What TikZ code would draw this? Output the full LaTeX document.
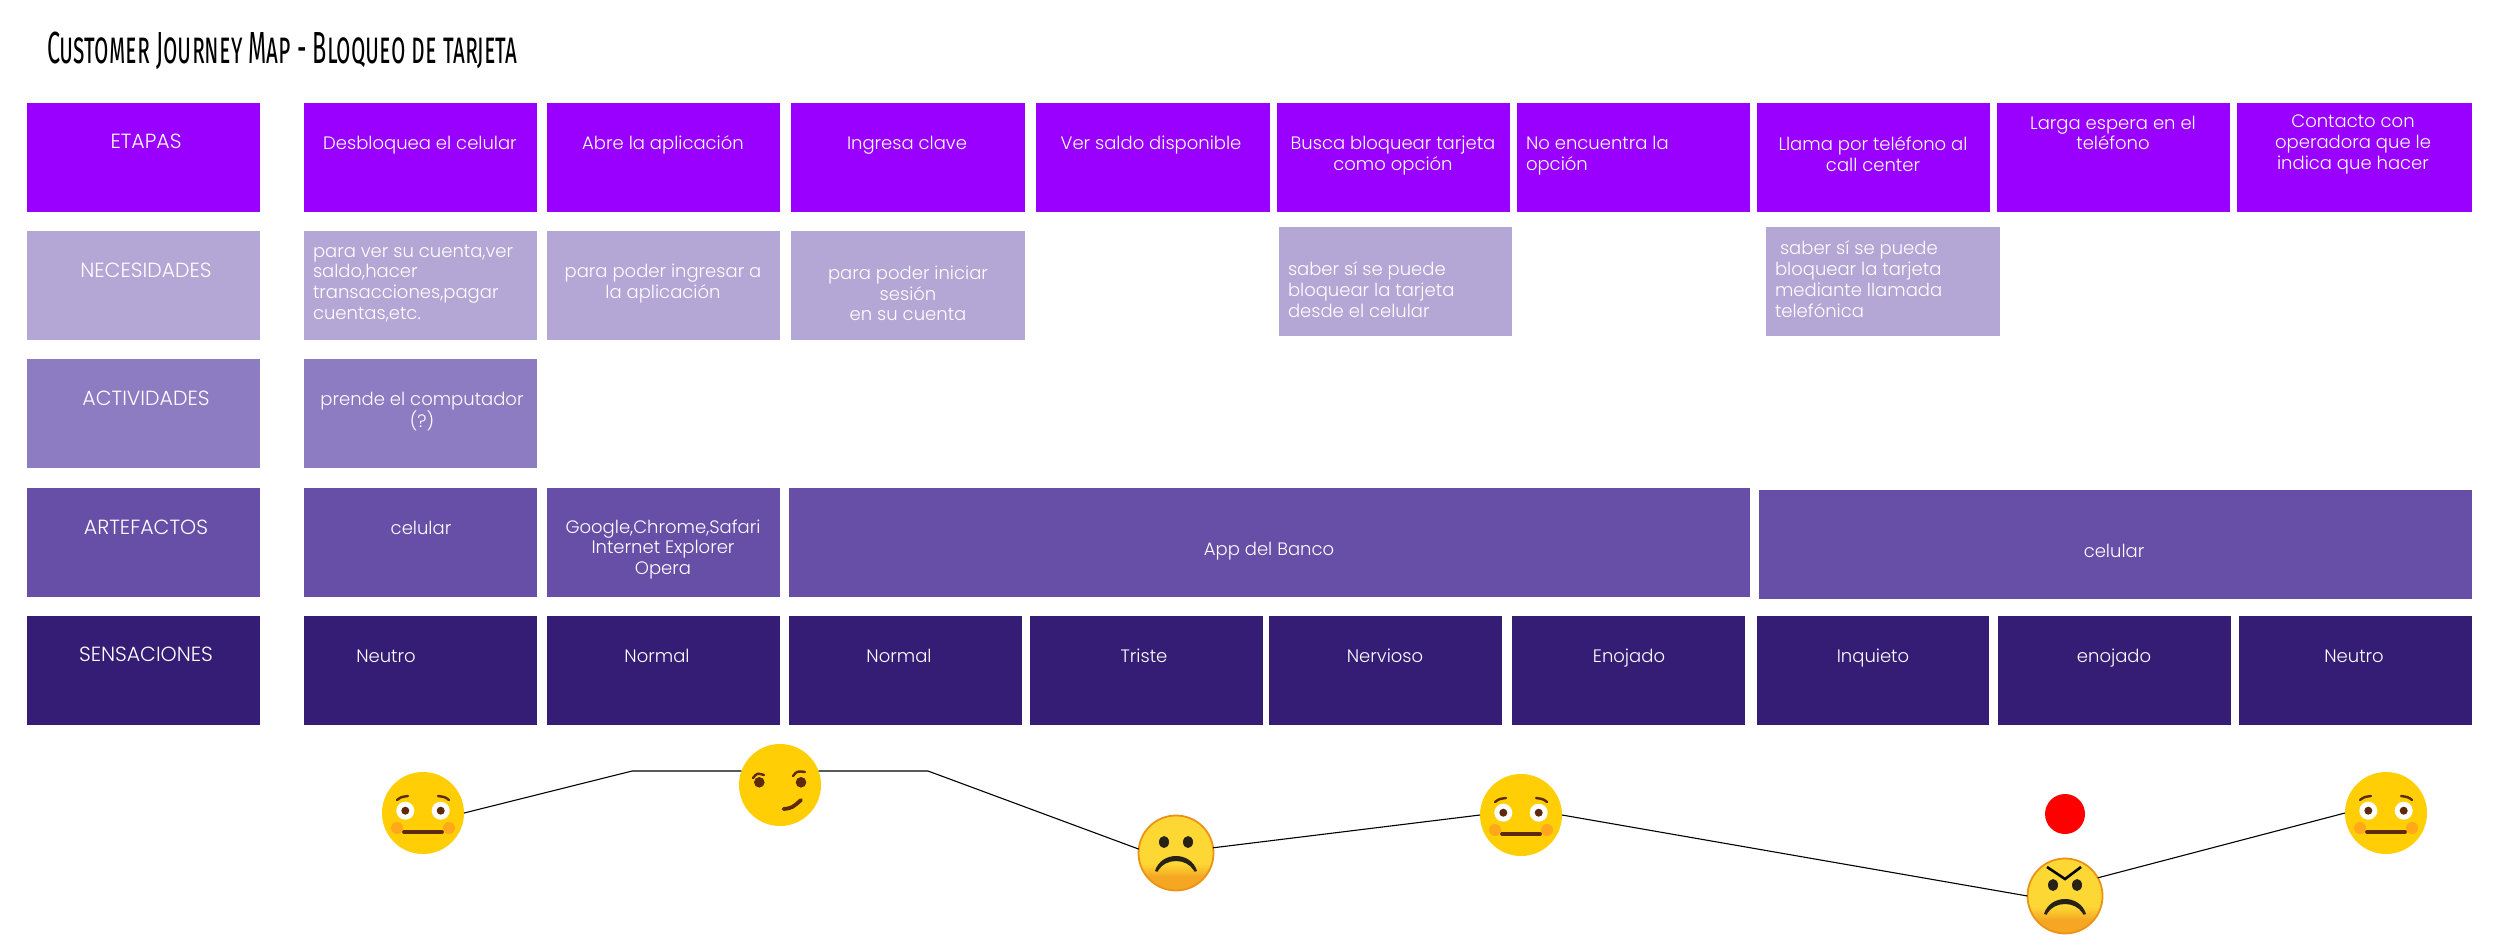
\documentclass[tikz,border=0pt]{standalone}
\usepackage{fontspec}
\setmainfont{Poppins}[UprightFont=* Light]
\newfontfamily\titlefont{Fira Sans}[Letters=SmallCaps,FakeStretch=0.52]
\definecolor{etapa}{HTML}{9900FF}
\definecolor{nece}{HTML}{B4A7D6}
\definecolor{acti}{HTML}{8E7CC3}
\definecolor{arte}{HTML}{674EA7}
\definecolor{sens}{HTML}{351C75}
\definecolor{emo}{HTML}{FFCE05}
\definecolor{emoeye}{HTML}{5D2A0C}
\definecolor{emocheek}{HTML}{FFA81A}
\definecolor{sady}{HTML}{FDD835}
\definecolor{sado}{HTML}{F5A623}
\definecolor{sadl}{HTML}{EB9316}
\definecolor{sadk}{HTML}{262218}
\pgfdeclareverticalshading{sadgrad}{100bp}{color(0bp)=(sado);color(34bp)=(sado);color(43bp)=(sady);color(100bp)=(sady)}
\tikzset{
  cellbox/.style={rectangle,draw=none,inner sep=0pt,outer sep=0pt,anchor=north west},
  celltext/.style={text=white,inner sep=0pt,outer sep=0pt,yshift=-1.5pt,font=\fontsize{18}{20.8}\selectfont},
  onetext/.style={celltext,text height=13pt,text depth=4pt,yshift=-1pt},
  headtext/.style={onetext,font=\fontsize{20.5}{22}\selectfont},
  facebase/.style={circle,draw=none,fill=emo,inner sep=0pt,outer sep=0pt,minimum size=82pt},
  sadbase/.style={circle,draw=sadl,line width=1.8pt,shading=sadgrad,inner sep=0pt,outer sep=0pt,minimum size=75pt},
  journey/.style={draw=black,line width=1.1pt},
  feature/.style={draw=emoeye,line width=2.4pt,line cap=round},
  mouthline/.style={draw=emoeye,line width=3.8pt,line cap=round},
}
% name, x1, y1, x2, y2, colour
\newcommand{\jcell}[6]{%
  \pgfmathsetmacro{\jw}{#4-#2}\pgfmathsetmacro{\jh}{#5-#3}%
  \node[cellbox,fill=#6,minimum width=\jw pt,minimum height=\jh pt] (#1) at (#2,#3) {};}
\newcommand{\neutralface}[3]{%
  \node[facebase] (#1) at (#2,#3) {};
  \begin{scope}[shift={(#2,#3)}]
    \fill[emocheek] (-26,15) circle (6) (26,15) circle (6);
    \fill[white] (-17.7,-2.3) circle (9) (17.7,-2.3) circle (9);
    \fill[emoeye] (-17.7,-2.3) circle (4) (17.7,-2.3) circle (4);
    \draw[feature] (-26,-13) .. controls (-22,-16) .. (-15,-17);
    \draw[feature] (26,-13) .. controls (22,-16) .. (15,-17);
    \draw[mouthline] (-19,19) -- (19,19);
  \end{scope}}
\newcommand{\smirkface}[3]{%
  \node[facebase] (#1) at (#2,#3) {};
  \begin{scope}[shift={(#2,#3)}]
    \fill[emoeye] (-20.7,-2.7) circle (5.3) (21,-2.7) circle (5.3);
    \draw[feature] (-27,-7) .. controls (-23,-12) .. (-16,-10);
    \draw[feature] (13,-9) .. controls (17,-14) .. (25,-13);
    \draw[mouthline] (3.5,24) .. controls (12,23) .. (21,15);
  \end{scope}}
\newcommand{\sadmouth}{%
  \fill[sadk] (-21,18) .. controls (-15,-2) and (15,-2) .. (21,18)
     .. controls (18,19) .. (17.5,17) .. controls (10,5) and (-10,5) .. (-17.5,17) .. controls (-18,19) .. cycle;
  \fill[sadk] (-12,-11) ellipse (5 and 6) (12,-11) ellipse (5 and 6);}
\newcommand{\sadface}[3]{%
  \node[sadbase] (#1) at (#2,#3) {};
  \begin{scope}[shift={(#2,#3)}]\sadmouth\end{scope}}
\newcommand{\angryface}[3]{%
  \node[sadbase] (#1) at (#2,#3) {};
  \begin{scope}[shift={(#2,#3)}]\sadmouth
    \draw[black,line width=2.6pt] (-18,-29) -- (0,-17) -- (16,-29);
  \end{scope}}
\begin{document}
\begin{tikzpicture}[x=1pt,y=-1pt]
\useasboundingbox (0,0) rectangle (2500,942);
\fill[white] (0,0) rectangle (2500,942);
\node[anchor=west,inner sep=0pt,font=\titlefont\fontsize{45}{49}\selectfont] (title) at (47,51) {Customer Journey Map - Bloqueo de tarjeta};
% row 1
\jcell{e0}{27}{103}{260}{212}{etapa}
\jcell{e1}{304}{103}{537}{212}{etapa}
\jcell{e2}{547}{103}{780}{212}{etapa}
\jcell{e3}{791}{103}{1025}{212}{etapa}
\jcell{e4}{1036}{103}{1270}{212}{etapa}
\jcell{e5}{1277}{103}{1510}{212}{etapa}
\jcell{e6}{1517}{103}{1750}{212}{etapa}
\jcell{e7}{1757}{103}{1990}{212}{etapa}
\jcell{e8}{1997}{103}{2230}{212}{etapa}
\jcell{e9}{2237}{103}{2472}{212}{etapa}
% row 2
\jcell{n0}{27}{231}{260}{340}{nece}
\jcell{n1}{304}{231}{537}{340}{nece}
\jcell{n2}{547}{231}{780}{340}{nece}
\jcell{n3}{791}{231}{1025}{340}{nece}
\jcell{n5}{1279}{227}{1512}{336}{nece}
\jcell{n7}{1766}{227}{2000}{336}{nece}
% row 3
\jcell{a0}{27}{359}{260}{468}{acti}
\jcell{a1}{304}{359}{537}{468}{acti}
% row 4
\jcell{r0}{27}{488}{260}{597}{arte}
\jcell{r1}{304}{488}{537}{597}{arte}
\jcell{r2}{547}{488}{780}{597}{arte}
\jcell{r3}{789}{488}{1750}{597}{arte}
\jcell{r4}{1759}{490}{2472}{599}{arte}
% row 5
\jcell{s0}{27}{616}{260}{725}{sens}
\jcell{s1}{304}{616}{537}{725}{sens}
\jcell{s2}{547}{616}{780}{725}{sens}
\jcell{s3}{789}{616}{1022}{725}{sens}
\jcell{s4}{1030}{616}{1263}{725}{sens}
\jcell{s5}{1269}{616}{1502}{725}{sens}
\jcell{s6}{1512}{616}{1745}{725}{sens}
\jcell{s7}{1757}{616}{1989}{725}{sens}
\jcell{s8}{1998}{616}{2231}{725}{sens}
\jcell{s9}{2239}{616}{2472}{725}{sens}
% texts
\node[headtext] (te0) at (146,141) {ETAPAS};
\node[onetext] (te1) at (420,142) {Desbloquea el celular};
\node[onetext] (te2) at (663,142) {Abre la aplicación};
\node[onetext] (te3) at (907,142) {Ingresa clave};
\node[onetext] (te4) at (1151,142) {Ver saldo disponible};
\node[celltext,align=center] (te5) at (1393,154) {Busca bloquear tarjeta\\como opción};
\node[celltext,align=left,anchor=west] (te6) at (1526,154) {No encuentra la\\opción};
\node[celltext,align=center] (te7) at (1873,152.5) {Llama por teléfono al\\call center};
\node[celltext,align=center] (te8) at (2113,131.5) {Larga espera en el\\teléfono};
\node[celltext,align=center] (te9) at (2353,143) {Contacto con\\operadora que le\\indica que hacer};
\node[headtext] (tn0) at (146,270) {NECESIDADES};
\node[celltext,align=left,anchor=west] (tn1) at (313,282) {para ver su cuenta,ver\\saldo,hacer\\transacciones,pagar\\cuentas,etc.};
\node[celltext,align=center] (tn2) at (663,282) {para poder ingresar a\\la aplicación};
\node[celltext,align=center] (tn3) at (908,292) {para poder iniciar\\sesión\\en su cuenta};
\node[celltext,align=left,anchor=west] (tn5) at (1288,288) {saber sí se puede\\bloquear la tarjeta\\desde el celular};
\node[celltext,align=left,anchor=west] (tn7) at (1775,277.5) {\hspace{5pt}saber sí se puede\\bloquear la tarjeta\\mediante llamada\\telefónica};
\node[headtext] (ta0) at (146,398) {ACTIVIDADES};
\node[celltext,align=center] (ta1) at (422,410) {prende el computador\\(?)};
\node[headtext] (tr0) at (146,527) {ARTEFACTOS};
\node[onetext] (tr1) at (421,527) {celular};
\node[celltext,align=center] (tr2) at (663,548) {Google,Chrome,Safari\\Internet Explorer\\Opera};
\node[onetext] (tr3) at (1269,548) {App del Banco};
\node[onetext] (tr4) at (2114,550) {celular};
\node[headtext] (ts0) at (146,654) {SENSACIONES};
\node[onetext] (ts1) at (386,655) {Neutro};
\node[onetext] (ts2) at (657,655) {Normal};
\node[onetext] (ts3) at (899,655) {Normal};
\node[onetext] (ts4) at (1144,655) {Triste};
\node[onetext] (ts5) at (1385,655) {Nervioso};
\node[onetext] (ts6) at (1629,655) {Enojado};
\node[onetext] (ts7) at (1873,655) {Inquieto};
\node[onetext] (ts8) at (2114,655) {enojado};
\node[onetext] (ts9) at (2354,655) {Neutro};
% faces
\neutralface{f1}{423}{813}
\smirkface{f2}{780}{785}
\sadface{f3}{1176}{853}
\neutralface{f4}{1521}{815}
\node[circle,fill=red,inner sep=0pt,minimum size=40pt] (dot) at (2065,814) {};
\angryface{f5}{2065}{896}
\neutralface{f6}{2386}{813}
% connectors
\coordinate (k1) at (632,771);
\coordinate (k2) at (928,771);
\draw[journey] (f1.east) -- (k1) -- (f2.160);
\draw[journey] (f2.20) -- (k2) -- (f3.174);
\draw[journey] (f3.8) -- (f4.west);
\draw[journey] (f4.east) -- (f5.west);
\draw[journey] (f5.29) -- (f6.west);
\end{tikzpicture}
\end{document}
